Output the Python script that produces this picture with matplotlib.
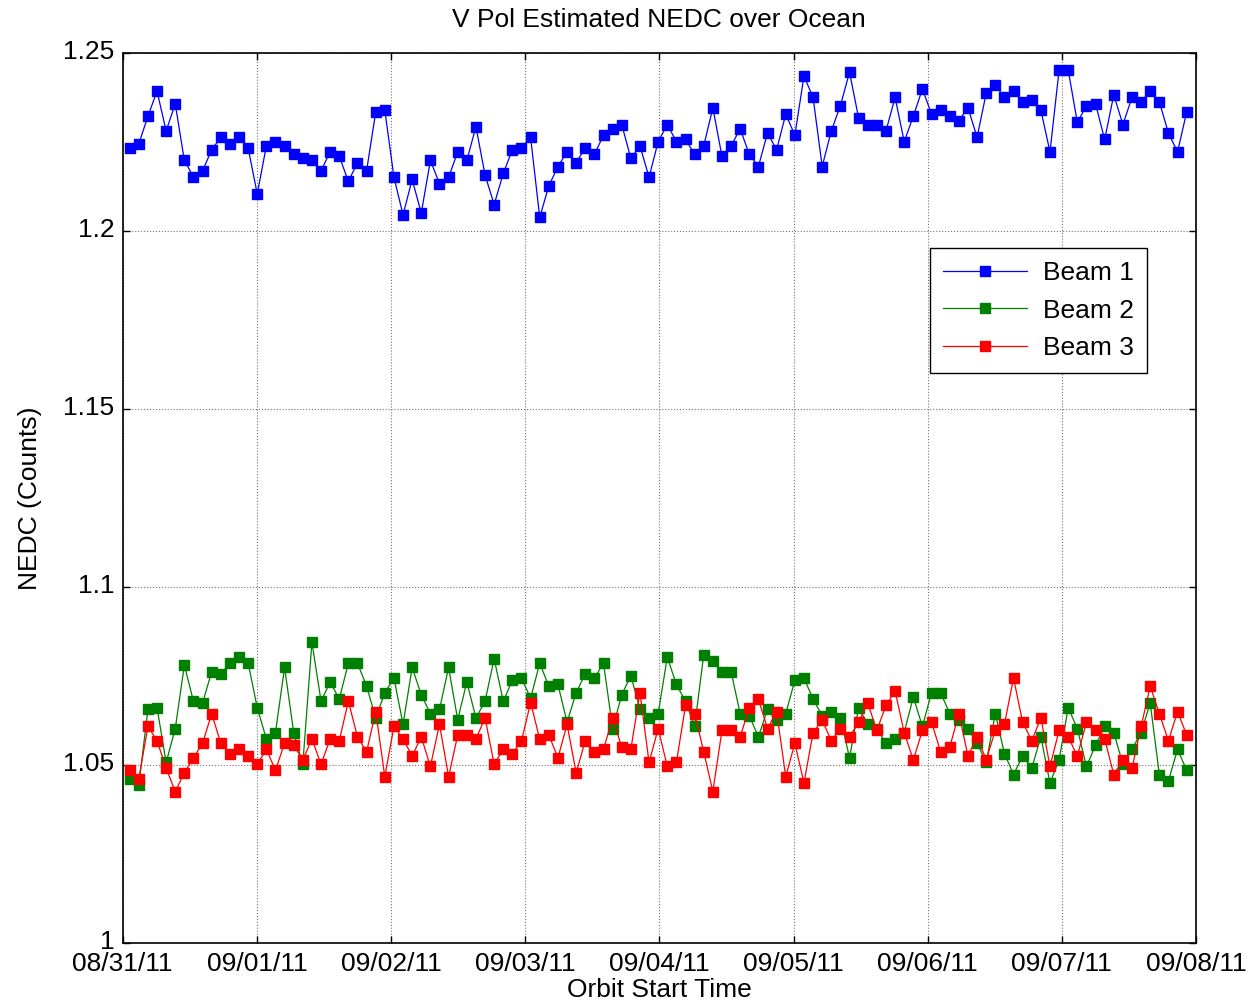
import numpy as np
import matplotlib
matplotlib.use("Agg")
import matplotlib.pyplot as plt
import matplotlib.dates as mdates
import matplotlib.transforms as mtransforms
from datetime import datetime, timedelta

# ---- data ----
orbit_start = datetime(2011, 8, 31, 1, 15)
orbit_period_min = 97.8

beam1 = [1.2234, 1.2246, 1.2323, 1.2394, 1.2282, 1.2358, 1.2199, 1.2153, 1.2170, 1.2229,
         1.2264, 1.2246, 1.2264, 1.2234, 1.2105, 1.2240, 1.2252, 1.2240, 1.2216, 1.2205,
         1.2199, 1.2170, 1.2223, 1.2211, 1.2140, 1.2193, 1.2170, 1.2335, 1.2340, 1.2152,
         1.2046, 1.2146, 1.2051, 1.2199, 1.2134, 1.2152, 1.2223, 1.2199, 1.2294, 1.2158,
         1.2075, 1.2163, 1.2229, 1.2234, 1.2264, 1.2039, 1.2128, 1.2182, 1.2223, 1.2193,
         1.2234, 1.2216, 1.2270, 1.2288, 1.2300, 1.2205, 1.2240, 1.2152, 1.2252, 1.2300,
         1.2252, 1.2258, 1.2216, 1.2240, 1.2347, 1.2211, 1.2240, 1.2288, 1.2216, 1.2182,
         1.2276, 1.2229, 1.2329, 1.2270, 1.2436, 1.2376, 1.2182, 1.2282, 1.2353, 1.2447,
         1.2318, 1.2300, 1.2300, 1.2282, 1.2376, 1.2252, 1.2323, 1.2400, 1.2329, 1.2340,
         1.2323, 1.2311, 1.2347, 1.2264, 1.2388, 1.2412, 1.2376, 1.2394, 1.2364, 1.2370,
         1.2340, 1.2223, 1.2453, 1.2453, 1.2306, 1.2353, 1.2358, 1.2258, 1.2383, 1.2300,
         1.2376, 1.2364, 1.2394, 1.2364, 1.2276, 1.2223, 1.2335]

beam2 = [1.0462, 1.0444, 1.0657, 1.0662, 1.0508, 1.0603, 1.0781, 1.0680, 1.0675, 1.0763,
         1.0757, 1.0787, 1.0805, 1.0787, 1.0662, 1.0574, 1.0592, 1.0775, 1.0592, 1.0503,
         1.0846, 1.0680, 1.0734, 1.0686, 1.0787, 1.0787, 1.0722, 1.0633, 1.0704, 1.0745,
         1.0615, 1.0775, 1.0698, 1.0645, 1.0657, 1.0775, 1.0628, 1.0734, 1.0633, 1.0680,
         1.0799, 1.0680, 1.0739, 1.0745, 1.0688, 1.0787, 1.0722, 1.0727, 1.0621, 1.0704,
         1.0757, 1.0745, 1.0787, 1.0603, 1.0698, 1.0752, 1.0657, 1.0633, 1.0645, 1.0804,
         1.0727, 1.0680, 1.0609, 1.0811, 1.0793, 1.0763, 1.0763, 1.0645, 1.0639, 1.0580,
         1.0657, 1.0627, 1.0645, 1.0739, 1.0745, 1.0686, 1.0639, 1.0651, 1.0633, 1.0521,
         1.0662, 1.0615, 1.0603, 1.0562, 1.0574, 1.0592, 1.0692, 1.0609, 1.0704, 1.0704,
         1.0645, 1.0627, 1.0603, 1.0562, 1.0508, 1.0645, 1.0533, 1.0474, 1.0526, 1.0492,
         1.0580, 1.0450, 1.0515, 1.0662, 1.0603, 1.0497, 1.0556, 1.0609, 1.0592, 1.0503,
         1.0545, 1.0592, 1.0675, 1.0474, 1.0456, 1.0545, 1.0486]

beam3 = [1.0486, 1.0462, 1.0609, 1.0569, 1.0492, 1.0426, 1.0479, 1.0521, 1.0562, 1.0645,
         1.0562, 1.0533, 1.0545, 1.0526, 1.0503, 1.0545, 1.0486, 1.0562, 1.0556, 1.0515,
         1.0574, 1.0503, 1.0574, 1.0569, 1.0680, 1.0580, 1.0538, 1.0651, 1.0468, 1.0609,
         1.0574, 1.0526, 1.0580, 1.0497, 1.0615, 1.0468, 1.0585, 1.0585, 1.0574, 1.0633,
         1.0503, 1.0545, 1.0533, 1.0569, 1.0676, 1.0574, 1.0585, 1.0521, 1.0615, 1.0479,
         1.0569, 1.0538, 1.0545, 1.0633, 1.0551, 1.0545, 1.0704, 1.0508, 1.0603, 1.0497,
         1.0508, 1.0668, 1.0645, 1.0538, 1.0426, 1.0598, 1.0598, 1.0580, 1.0662, 1.0686,
         1.0603, 1.0651, 1.0468, 1.0562, 1.0450, 1.0592, 1.0627, 1.0569, 1.0603, 1.0580,
         1.0621, 1.0675, 1.0598, 1.0668, 1.0709, 1.0592, 1.0515, 1.0598, 1.0621, 1.0538,
         1.0551, 1.0645, 1.0526, 1.0580, 1.0515, 1.0598, 1.0615, 1.0745, 1.0621, 1.0569,
         1.0633, 1.0497, 1.0598, 1.0580, 1.0526, 1.0621, 1.0598, 1.0574, 1.0474, 1.0515,
         1.0492, 1.0609, 1.0722, 1.0645, 1.0569, 1.0651, 1.0585]

series_labels = ["Beam 1", "Beam 2", "Beam 3"]
series_colors = ["#0000ff", "#008000", "#ff0000"]
y_ticks = [1.0, 1.05, 1.1, 1.15, 1.2, 1.25]
y_tick_labels = ["1", "1.05", "1.1", "1.15", "1.2", "1.25"]
x_start = datetime(2011, 8, 31)
x_end = datetime(2011, 9, 8)

times = [orbit_start + timedelta(minutes=orbit_period_min * i) for i in range(len(beam1))]

# ---- plot ----
plt.rcParams['font.family'] = ['Liberation Sans', 'DejaVu Sans']
fig = plt.figure(figsize=(12.5, 10.08), dpi=100)
ax = fig.add_axes([122.7 / 1250, 1 - 943.3 / 1008, (1196 - 122.7) / 1250, (943.3 - 53.3) / 1008])

for vals, lab, col in zip([beam1, beam2, beam3], series_labels, series_colors):
    ax.plot(times, vals, '-', color=col, lw=0.9, marker='s', ms=6.8,
            mfc=col, mec=col, label=lab, solid_joinstyle='round')

ax.set_xlim(x_start, x_end)
ax.set_ylim(1.0, 1.25)
ax.xaxis.set_major_locator(mdates.DayLocator())
ax.xaxis.set_major_formatter(mdates.DateFormatter('%m/%d/%y'))
ax.set_yticks(y_ticks)
ax.set_yticklabels(y_tick_labels)

ax.grid(True, linestyle=':', color='0.45', lw=0.8)
ax.tick_params(direction='in', length=5, width=1, top=True, right=True,
               labelsize=19)
ax.tick_params(axis='x', pad=6)
ax.tick_params(axis='y', pad=6)
shift_up = mtransforms.ScaledTranslation(0, 4 / 100, fig.dpi_scale_trans)
for lbl in ax.get_yticklabels():
    lbl.set_transform(lbl.get_transform() + shift_up)
for sp in ax.spines.values():
    sp.set_linewidth(1.2)

ax.set_title("V Pol Estimated NEDC over Ocean", fontsize=19, pad=19)
ax.set_xlabel("Orbit Start Time", fontsize=19, labelpad=2)
ax.set_ylabel("NEDC (Counts)", fontsize=19, labelpad=15)

leg = ax.legend(loc='upper left', bbox_to_anchor=(0.752, 0.781), fontsize=19,
                frameon=True, fancybox=False, edgecolor='black', framealpha=1,
                handlelength=3.2, borderpad=0.5, labelspacing=0.5,
                handletextpad=0.6, borderaxespad=0)
leg.get_frame().set_linewidth(1.0)

fig.savefig("out.png", dpi=100)
